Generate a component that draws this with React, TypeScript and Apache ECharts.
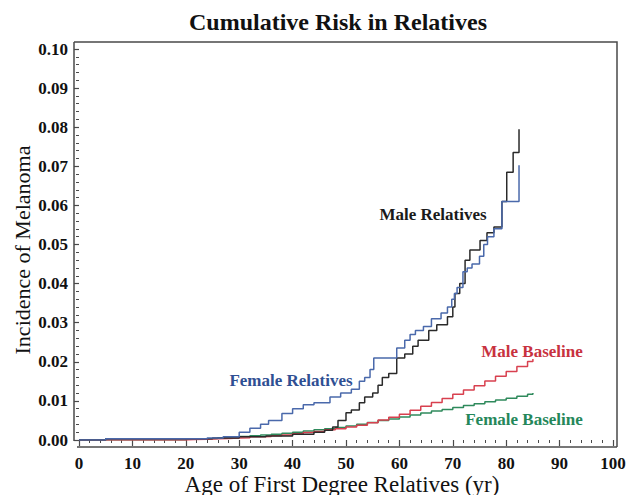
import React, { useEffect, useRef } from "react";
import * as echarts from "echarts";

const TITLE = "Cumulative Risk in Relatives";
const X_NAME = "Age of First Degree Relatives (yr)";
const Y_NAME = "Incidence of Melanoma";

const FEMALE_REL: [number, number][] = [
  [0, 0], [5, 0.0003], [24, 0.0005], [27, 0.0008], [30, 0.002], [32, 0.003], [34, 0.004],
  [35.5, 0.005], [38, 0.0068], [40, 0.008], [42, 0.009], [44, 0.0095], [47, 0.011],
  [49, 0.012], [51, 0.013], [52.5, 0.015], [53.5, 0.016], [54.5, 0.018], [55.2, 0.021],
  [59.5, 0.0235], [61, 0.0255], [62, 0.027], [63, 0.028], [64.5, 0.029], [66, 0.031],
  [67.8, 0.0325], [69, 0.034], [69.8, 0.036], [70.3, 0.0375], [70.8, 0.039], [71.9, 0.043],
  [72.7, 0.044], [73.6, 0.045], [75, 0.047], [75.8, 0.05], [76.5, 0.052], [77.7, 0.054],
  [79.2, 0.061], [82.4, 0.0703],
];

const MALE_REL: [number, number][] = [
  [0, 0], [5, 0.0003], [25, 0.0005], [30, 0.0008], [35, 0.001], [40, 0.0015], [44, 0.002],
  [46, 0.0025], [47.5, 0.0033], [48.5, 0.005], [50, 0.007], [51, 0.0077], [52.5, 0.0095],
  [53.5, 0.011], [55, 0.012], [56, 0.014], [56.8, 0.016], [58, 0.017], [59.5, 0.021],
  [61, 0.022], [62.5, 0.024], [63.5, 0.0255], [65.5, 0.028], [67, 0.0295], [69, 0.0315],
  [70, 0.034], [70.4, 0.0375], [71.3, 0.04], [72.3, 0.046], [73.2, 0.0486], [75.1, 0.051],
  [76.4, 0.053], [77.7, 0.0545], [79.2, 0.061], [80.1, 0.0685], [81.3, 0.0735], [82.4, 0.0795],
];

const MALE_BASE: [number, number][] = [
  [0, 0], [20, 0.0001], [22, 0.0002], [24, 0.0003], [26, 0.0004], [28, 0.0005], [30, 0.0006],
  [32, 0.0008], [34, 0.0009], [36, 0.0011], [38, 0.0013], [40, 0.0016], [42, 0.0019],
  [44, 0.0022], [46, 0.0026], [48, 0.0029], [50, 0.0033], [52, 0.0038], [54, 0.0044],
  [56, 0.0051], [58, 0.0058], [60, 0.0066], [62, 0.0076], [64, 0.0086], [66, 0.0096],
  [68, 0.0106], [70, 0.0117], [72, 0.0128], [74, 0.0139], [76, 0.0151], [78, 0.0163],
  [80, 0.0175], [82, 0.0188], [84, 0.0201], [85, 0.0207],
];

const FEMALE_BASE: [number, number][] = [
  [0, 0], [20, 0.0002], [22, 0.0003], [24, 0.0004], [26, 0.0006], [28, 0.0007], [30, 0.0009],
  [32, 0.0011], [34, 0.0013], [36, 0.0015], [38, 0.0017], [40, 0.002], [42, 0.0023],
  [44, 0.0026], [46, 0.0029], [48, 0.0032], [50, 0.0036], [52, 0.004], [54, 0.0045],
  [56, 0.005], [58, 0.0054], [60, 0.0059], [62, 0.0064], [64, 0.0069], [66, 0.0074],
  [68, 0.0078], [70, 0.0083], [72, 0.0088], [74, 0.0093], [76, 0.0098], [78, 0.0102],
  [80, 0.0107], [82, 0.0112], [84, 0.0117], [85, 0.012],
];

const SERIF = '"Liberation Serif", "Times New Roman", serif';
const AXIS_COLOR = "#4a4a4a";

export default function App() {
  const ref = useRef<HTMLDivElement>(null);
  useEffect(() => {
    if (!ref.current) return;
    const chart = echarts.init(ref.current, undefined, { renderer: "svg" });
    const lineSeries = (name: string, data: [number, number][], color: string, z: number) => ({
      name,
      type: "line",
      step: "end",
      data,
      showSymbol: false,
      symbol: "none",
      z,
      lineStyle: { color, width: 1.5 },
    });
    const label = (text: string, x: number, y: number, fill: string) => ({
      type: "text",
      x,
      y,
      style: {
        text,
        fill,
        font: `bold 17px ${SERIF}`,
        textAlign: "center",
        textVerticalAlign: "middle",
      },
    });
    chart.setOption({
      animation: false,
      backgroundColor: "#ffffff",
      grid: { left: 79, right: 21, top: 49, bottom: 55, containLabel: false },
      xAxis: {
        type: "value",
        min: 0,
        max: 100,
        interval: 10,
        offset: 7,
        axisLine: { show: false },
        axisTick: { show: true, length: 6, lineStyle: { color: AXIS_COLOR, width: 1.2 } },
        minorTick: { show: true, splitNumber: 5, length: 3, lineStyle: { color: AXIS_COLOR, width: 1 } },
        splitLine: { show: false },
        axisLabel: {
          margin: 8,
          color: "#111",
          fontFamily: SERIF,
          fontWeight: "bold",
          fontSize: 17,
        },
      },
      yAxis: {
        type: "value",
        min: 0,
        max: 0.1,
        interval: 0.01,
        offset: 5,
        axisLine: { show: false },
        axisTick: { show: true, length: 5, lineStyle: { color: AXIS_COLOR, width: 1.2 } },
        minorTick: { show: true, splitNumber: 5, length: 3, lineStyle: { color: AXIS_COLOR, width: 1 } },
        splitLine: { show: false },
        axisLabel: {
          margin: 6,
          color: "#111",
          fontFamily: SERIF,
          fontWeight: "bold",
          fontSize: 17,
          formatter: (v: number) => v.toFixed(2),
        },
      },
      series: [
        lineSeries("Female Baseline", FEMALE_BASE, "#2f8a5c", 2),
        lineSeries("Male Baseline", MALE_BASE, "#d8404f", 3),
        lineSeries("Male Relatives", MALE_REL, "#2a2a2a", 4),
        lineSeries("Female Relatives", FEMALE_REL, "#4a69ab", 5),
      ],
      graphic: [
        {
          type: "polyline",
          silent: true,
          shape: { points: [[74, 42], [617, 42], [617, 447]] },
          style: { stroke: AXIS_COLOR, lineWidth: 1.5, fill: "none" },
        },
        {
          type: "line",
          silent: true,
          shape: { x1: 74, y1: 42, x2: 74, y2: 441 },
          style: { stroke: AXIS_COLOR, lineWidth: 1.5 },
        },
        {
          type: "line",
          silent: true,
          shape: { x1: 77, y1: 447, x2: 617, y2: 447 },
          style: { stroke: AXIS_COLOR, lineWidth: 1.5 },
        },
        {
          type: "text",
          x: 338,
          y: 22,
          style: {
            text: TITLE,
            fill: "#111",
            font: `bold 24px ${SERIF}`,
            textAlign: "center",
            textVerticalAlign: "middle",
          },
        },
        {
          type: "text",
          x: 342,
          y: 484,
          style: {
            text: X_NAME,
            fill: "#111",
            font: `23px ${SERIF}`,
            textAlign: "center",
            textVerticalAlign: "middle",
          },
        },
        {
          type: "text",
          x: 22,
          y: 250,
          rotation: Math.PI / 2,
          style: {
            text: Y_NAME,
            fill: "#111",
            font: `22px ${SERIF}`,
            textAlign: "center",
            textVerticalAlign: "middle",
          },
        },
        label("Male Relatives", 433, 214, "#1a1a1a"),
        label("Female Relatives", 291, 380, "#2f4f93"),
        label("Male Baseline", 532, 351, "#c8323f"),
        label("Female Baseline", 524, 419, "#25875a"),
      ],
    });
    return () => chart.dispose();
  }, []);
  return (
    <div
      ref={ref}
      style={{ position: "fixed", left: 0, top: 0, width: 634, height: 495, background: "#fff" }}
    />
  );
}
